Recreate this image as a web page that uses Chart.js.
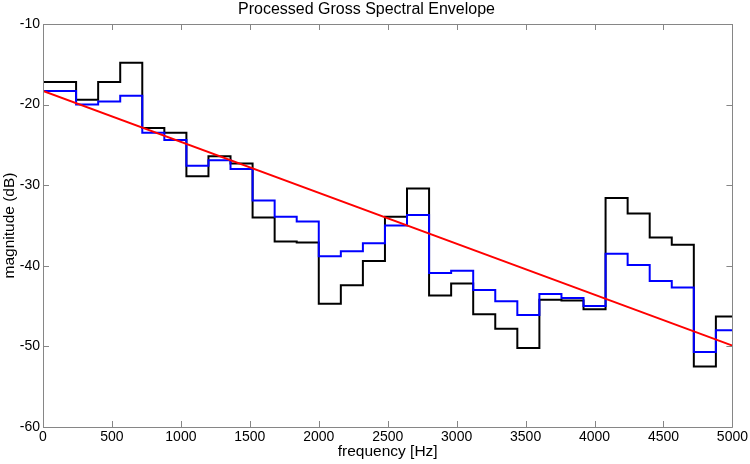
<!DOCTYPE html>
<html>
<head>
<meta charset="utf-8">
<script src="https://cdn.jsdelivr.net/npm/chart.js@4"></script>
<style>
  body { margin: 0; background: #fff; }
  canvas { display: block; }
</style>
</head>
<body>
<canvas id="chart" width="750" height="464"></canvas>
<script>
// band edges in Hz (each value holds from one edge to the next)
const bandEdges = [0, 240, 400, 560, 720, 880, 1040, 1200, 1360, 1520, 1680, 1840, 2000, 2160, 2320,
    2480, 2640, 2800, 2960, 3120, 3280, 3440, 3600, 3760, 3920, 4080, 4240, 4400, 4560, 4720, 4880, 5000];

// gross envelope (black)
const grossEnvelope = [-17.2, -19.4, -17.2, -14.8, -22.9, -23.5, -28.9, -26.4, -27.3, -34.0, -37.0,
    -37.1, -44.7, -42.4, -39.4, -33.9, -30.4, -43.7, -42.2, -46.0, -47.8, -50.2, -44.2, -44.3,
    -45.4, -31.6, -33.5, -36.5, -37.4, -52.5, -46.3];

// processed envelope (blue)
const processedEnvelope = [-18.3, -20.0, -19.6, -18.9, -23.5, -24.4, -27.6, -26.9, -28.0, -31.9, -33.9,
    -34.5, -38.8, -38.2, -37.2, -35.0, -33.7, -40.9, -40.6, -43.0, -44.4, -46.1, -43.5, -44.0,
    -45.0, -38.5, -39.9, -41.9, -42.7, -50.7, -48.0];

// spectral tilt (red)
const tiltFreq = [0, 5000];
const tiltLevel = [-18.3, -49.9];

const xTicks = [0, 500, 1000, 1500, 2000, 2500, 3000, 3500, 4000, 4500, 5000];
const yTicks = [-60, -50, -40, -30, -20, -10];

const FONT = "'Liberation Sans', Arial, sans-serif";
const BOX_COLOR = '#868686';

function stairPoints(values) {
    return bandEdges.map((x, i) => ({ x: x, y: values[Math.min(i, values.length - 1)] }));
}

// MATLAB-like box with inward tick marks
const boxPlugin = {
    id: 'box',
    afterDraw(chart) {
        const { ctx, chartArea: a, scales } = chart;
        const len = 6;
        ctx.save();
        ctx.strokeStyle = BOX_COLOR;
        ctx.lineWidth = 1;
        ctx.beginPath();
        ctx.rect(Math.round(a.left) + 0.5, Math.round(a.top) + 0.5,
            Math.round(a.right - a.left), Math.round(a.bottom - a.top));
        xTicks.forEach(v => {
            const px = Math.round(scales.x.getPixelForValue(v)) + 0.5;
            ctx.moveTo(px, a.bottom); ctx.lineTo(px, a.bottom - len);
            ctx.moveTo(px, a.top); ctx.lineTo(px, a.top + len);
        });
        yTicks.forEach(v => {
            const py = Math.round(scales.y.getPixelForValue(v)) + 0.5;
            ctx.moveTo(a.left, py); ctx.lineTo(a.left + len, py);
            ctx.moveTo(a.right, py); ctx.lineTo(a.right - len, py);
        });
        ctx.stroke();
        ctx.restore();
    }
};

new Chart(document.getElementById('chart'), {
    type: 'line',
    data: {
        datasets: [
            {
                data: tiltFreq.map((x, i) => ({ x: x, y: tiltLevel[i] })),
                borderColor: '#ff0000',
                borderWidth: 2,
                pointRadius: 0,
                order: 0
            },
            {
                data: stairPoints(processedEnvelope),
                borderColor: '#0000ff',
                borderWidth: 2,
                pointRadius: 0,
                stepped: true,
                order: 1
            },
            {
                data: stairPoints(grossEnvelope),
                borderColor: '#000000',
                borderWidth: 2,
                pointRadius: 0,
                stepped: true,
                order: 2
            }
        ]
    },
    options: {
        responsive: false,
        animation: false,
        layout: { padding: { left: 0, right: 17, top: 0, bottom: 0 } },
        plugins: {
            legend: { display: false },
            tooltip: { enabled: false },
            title: {
                display: true,
                text: 'Processed Gross Spectral Envelope',
                color: '#000',
                font: { family: FONT, size: 16, weight: 'normal', lineHeight: 1.2 },
                padding: { top: 0.3, bottom: 4.5 }
            }
        },
        scales: {
            x: {
                type: 'linear',
                min: 0,
                max: 5000,
                afterBuildTicks: s => { s.ticks = xTicks.map(v => ({ value: v })); },
                afterFit: s => { s.height = 37; },
                grid: { display: false, drawTicks: false },
                border: { display: false },
                ticks: {
                    color: '#000',
                    padding: 2,
                    maxRotation: 0,
                    autoSkip: false,
                    font: { family: FONT, size: 14 },
                    callback: v => String(v)
                },
                title: {
                    display: true,
                    text: 'frequency [Hz]',
                    color: '#000',
                    font: { family: FONT, size: 15.5, lineHeight: 1.2 },
                    padding: { top: 0, bottom: 2.5 }
                }
            },
            y: {
                min: -60,
                max: -10,
                afterBuildTicks: s => { s.ticks = yTicks.map(v => ({ value: v })); },
                afterFit: s => { s.width = 43; },
                grid: { display: false, drawTicks: false },
                border: { display: false },
                ticks: {
                    color: '#000',
                    padding: 3,
                    font: { family: FONT, size: 14 },
                    callback: v => String(v)
                },
                title: {
                    display: true,
                    text: 'magnitude (dB)',
                    color: '#000',
                    font: { family: FONT, size: 15.5, lineHeight: 1.2 },
                    padding: { top: 0.5, bottom: 0 }
                }
            }
        }
    },
    plugins: [boxPlugin]
});
</script>
</body>
</html>
